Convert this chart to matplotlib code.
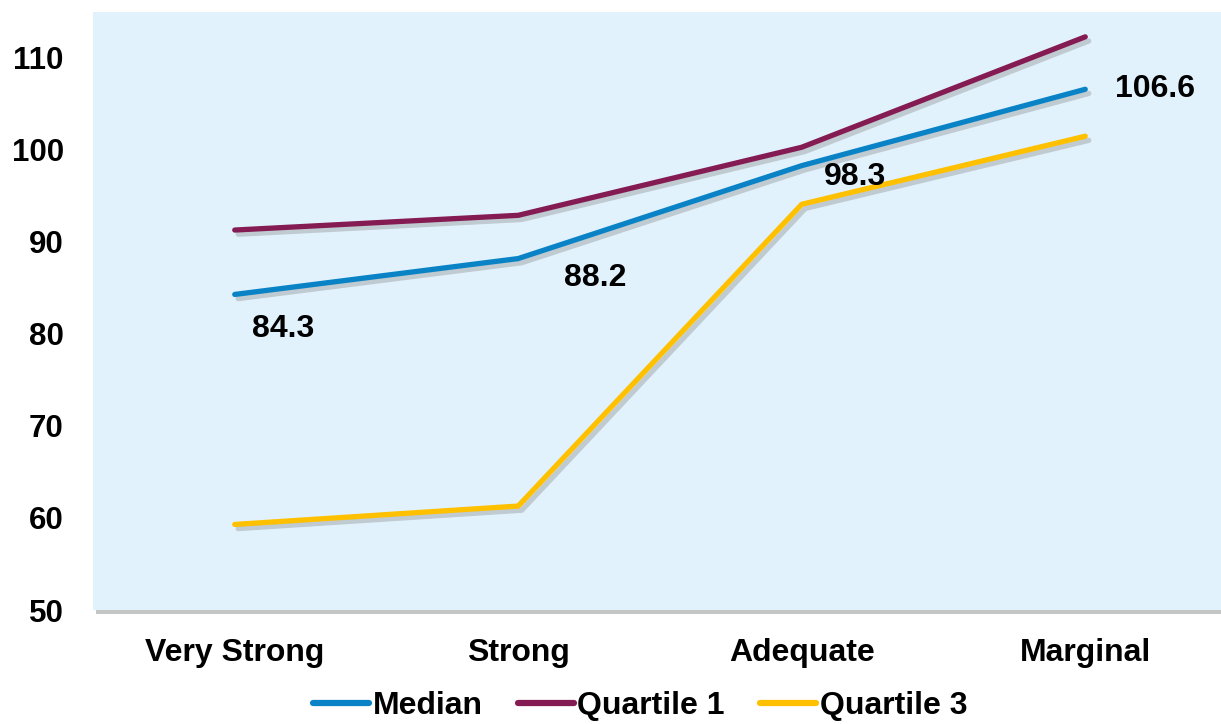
import matplotlib
matplotlib.use('Agg')
import matplotlib.pyplot as plt
import matplotlib.patheffects as pe
from matplotlib.lines import Line2D

categories = ['Very Strong', 'Strong', 'Adequate', 'Marginal']
median = [84.3, 88.2, 98.3, 106.6]
quartile1 = [91.3, 92.9, 100.3, 112.3]
quartile3 = [59.3, 61.3, 94.1, 101.5]
yticks = [50, 60, 70, 80, 90, 100, 110]
series_names = ['Median', 'Quartile 1', 'Quartile 3']
colors = ['#0A83C6', '#841B52', '#FFC000']

# label offsets for the median values, in pixels
label_offsets = [(48, -35), (77, -19), (53, -11), (70, 0)]

plt.rcParams['font.family'] = ['Liberation Sans', 'DejaVu Sans']
plt.rcParams['font.weight'] = 'bold'

fig = plt.figure(figsize=(12.21, 7.24), dpi=100)
ax = fig.add_axes([93 / 1221, 1 - 610 / 724, 1134 / 1221, 598 / 724])
ax.set_facecolor('#E1F2FD')
ax.patch.set_path_effects([pe.SimplePatchShadow(offset=(2, -3), shadow_rgbFace='gray', alpha=0.45), pe.Normal()])

shadow = [pe.SimpleLineShadow(offset=(2.5, -3), shadow_color='gray', alpha=0.35), pe.Normal()]
x = list(range(len(categories)))
for vals, c in zip([median, quartile1, quartile3], colors):
    ax.plot(x, vals, color=c, lw=3.8, path_effects=shadow, solid_capstyle='round')

for xi, v, off in zip(x, median, label_offsets):
    ax.annotate(f'{v:.1f}', (xi, v), xytext=off, textcoords='offset pixels',
                ha='center', va='center', fontsize=23, fontweight='bold')

ax.set_xlim(-0.5, 3.5)
ax.set_ylim(50, 115)
ax.set_yticks(yticks)
ax.set_xticks(x)
ax.set_xticklabels(categories)
ax.tick_params(axis='y', length=0, labelsize=22.5, pad=21)
ax.tick_params(axis='x', length=0, labelsize=23, pad=20)
for s in ax.spines.values():
    s.set_visible(False)

handles = [Line2D([], [], color=c, lw=4.5, solid_capstyle='round') for c in colors]
fig.legend(handles, series_names, loc='lower center', bbox_to_anchor=(640 / 1221, -0.036), ncol=3,
           frameon=False, prop={'weight': 'bold', 'size': 23},
           handlelength=1.75, handletextpad=0.12, columnspacing=1.1)

fig.savefig('out.png', dpi=100)
